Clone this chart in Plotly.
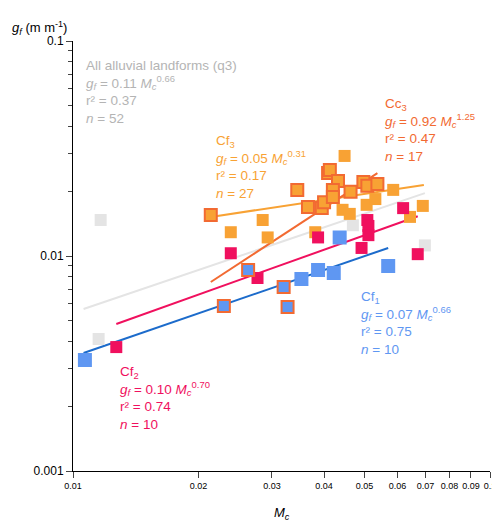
import math

import plotly.graph_objects as go

# Cf1 (blue)
cf1_x = [0.01068, 0.0230, 0.0263, 0.0320, 0.0327, 0.0353, 0.0387, 0.0422, 0.0436, 0.0570]
cf1_y = [0.00328, 0.00585, 0.00861, 0.00718, 0.00579, 0.00781, 0.00861, 0.00834, 0.0122, 0.00898]
cf1_cc3 = [False, True, True, True, True, False, False, False, False, False]

# Cf2 (pink)
cf2_x = [0.0127, 0.0239, 0.0277, 0.0387, 0.0492, 0.0508, 0.0511, 0.0511, 0.0619, 0.0671]
cf2_y = [0.00377, 0.0103, 0.00790, 0.0122, 0.0109, 0.0147, 0.0138, 0.0125, 0.0167, 0.0102]

# other alluvial (grey)
grey_x = [0.01152, 0.01165, 0.0469, 0.0698]
grey_y = [0.00411, 0.0147, 0.0139, 0.0112]

# Cf3 plain (orange)
cf3_x = [0.0239, 0.0285, 0.0293, 0.0381, 0.0448, 0.0443, 0.0461, 0.0506, 0.0531, 0.0586, 0.0643, 0.0690]
cf3_y = [0.0129, 0.0147, 0.0122, 0.0129, 0.0292, 0.0164, 0.0157, 0.0173, 0.0184, 0.0203, 0.0152, 0.0171]

# Cc3 points on orange (bordered)
cc3_x = [0.0214, 0.0345, 0.0366, 0.0395, 0.0400, 0.0409, 0.0413, 0.0432, 0.0420, 0.0420, 0.0463, 0.0497, 0.0508, 0.0537]
cc3_y = [0.0155, 0.0203, 0.0169, 0.0167, 0.0178, 0.0243, 0.0251, 0.0223, 0.0203, 0.0188, 0.0199, 0.0221, 0.0212, 0.0216]

# fitted line endpoints
fit_grey = ([0.0106, 0.0698], [0.00567, 0.0196])
fit_cf1 = ([0.0106, 0.0570], [0.00354, 0.0109])
fit_cf2 = ([0.0127, 0.0671], [0.00483, 0.0153])
fit_cf3 = ([0.0214, 0.0694], [0.0152, 0.0214])
fit_cc3 = ([0.0214, 0.0537], [0.00757, 0.0243])

BLUE = "#5F97F2"
BLUE_LINE = "#1C6BCB"
PINK = "#F0105E"
ORANGE = "#F8A234"
CC3 = "#F26A32"
GREY = "#E4E4E4"
GREY_TXT = "#B4B4B4"

fig = go.Figure()
for (lx, ly), c in [(fit_grey, GREY), (fit_cf1, BLUE_LINE), (fit_cf2, PINK),
                    (fit_cf3, ORANGE), (fit_cc3, CC3)]:
    fig.add_trace(go.Scatter(x=lx, y=ly, mode="lines", line=dict(color=c, width=2)))

sq = dict(symbol="square", size=12)
fig.add_trace(go.Scatter(x=grey_x, y=grey_y, mode="markers", marker=dict(color=GREY, **sq)))
fig.add_trace(go.Scatter(x=cf3_x, y=cf3_y, mode="markers", marker=dict(color=ORANGE, **sq)))
fig.add_trace(go.Scatter(x=cc3_x, y=cc3_y, mode="markers",
                         marker=dict(color=ORANGE, line=dict(color=CC3, width=2), **sq)))
fig.add_trace(go.Scatter(x=cf2_x, y=cf2_y, mode="markers", marker=dict(color=PINK, **sq)))
fig.add_trace(go.Scatter(
    x=cf1_x, y=cf1_y, mode="markers",
    marker=dict(color=BLUE, line=dict(color=[CC3 if b else BLUE for b in cf1_cc3], width=2), **sq)))


def eq(name, a, b, r2, n):
    return (f"{name}<br><i>g<sub>f</sub></i> = {a} <i>M<sub>c</sub></i><sup>{b}</sup>"
            f"<br>r² = {r2}<br><i>n</i> = {n}")


labels = [
    (0.0106, 0.085, "All alluvial landforms (q3)<br><i>g<sub>f</sub></i> = 0.11 <i>M<sub>c</sub></i><sup>0.66</sup><br>r² = 0.37<br><i>n</i> = 52", GREY_TXT),
    (0.0218, 0.038, eq("Cf<sub>3</sub>", "0.05", "0.31", "0.17", 27), ORANGE),
    (0.0555, 0.0565, eq("Cc<sub>3</sub>", "0.92", "1.25", "0.47", 17), CC3),
    (0.0485, 0.0072, eq("Cf<sub>1</sub>", "0.07", "0.66", "0.75", 10), BLUE),
    (0.0128, 0.0032, eq("Cf<sub>2</sub>", "0.10", "0.70", "0.74", 10), PINK),
]
for x, y, t, c in labels:
    # annotations on log axes take log10 coordinates
    fig.add_annotation(x=math.log10(x), y=math.log10(y), xref="x", yref="y", text=t,
                       showarrow=False, xanchor="left", yanchor="top", align="left",
                       font=dict(color=c, size=13.5, family="Arial, Liberation Sans"))

fig.add_annotation(x=-0.01, y=1.005, xref="paper", yref="paper", yanchor="bottom", xanchor="right",
                   text="<i>g<sub>f</sub></i> (m m<sup>-1</sup>)", showarrow=False,
                   font=dict(size=13, color="#000"))
fig.add_annotation(x=0.5, y=-0.075, xref="paper", yref="paper", yanchor="top",
                   text="<i>M<sub>c</sub></i>", showarrow=False, font=dict(size=13, color="#000"))

xt = [0.01, 0.02, 0.03, 0.04, 0.05, 0.06, 0.07, 0.08, 0.09, 0.1]
xt_txt = ["0.01", "0.02", "0.03", "0.04", "0.05", "0.06", "0.07", "0.08", "0.09", "0.1"]
yt = [0.001, 0.01, 0.1]
yt_txt = ["0.001", "0.01", "0.1"]

fig.update_layout(
    width=500, height=527, showlegend=False, plot_bgcolor="white", paper_bgcolor="white",
    margin=dict(l=65, r=13, t=33, b=64),
    font=dict(family="Arial, Liberation Sans", color="#000"),
    xaxis=dict(type="log", range=[-2, -1], tickvals=xt, ticktext=xt_txt, ticks="outside",
               ticklen=6, showgrid=False, zeroline=False, showline=True, linecolor="#000",
               tickfont=dict(size=9)),
    yaxis=dict(type="log", range=[-3, -1], tickvals=yt, ticktext=yt_txt, ticks="outside",
               ticklen=6, showgrid=False, zeroline=False, showline=True, linecolor="#000",
               tickfont=dict(size=12),
               minor=dict(ticks="outside", ticklen=4, showgrid=False, dtick="D1")),
)
fig.write_html("out.html")
